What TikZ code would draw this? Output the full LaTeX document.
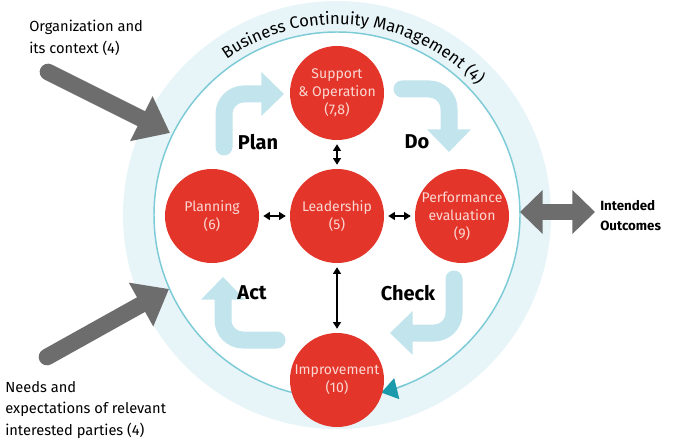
\documentclass[tikz,border=0pt]{standalone}
\usepackage{fontspec}
\setmainfont{Fira Sans}
\usetikzlibrary{arrows.meta, positioning, decorations.text, calc}

\definecolor{bcmred}{HTML}{E4352B}
\definecolor{bcmpink}{HTML}{FAD8D2}
\definecolor{bandblue}{HTML}{E8F5F8}
\definecolor{ringblue}{HTML}{7CCBD7}
\definecolor{tipteal}{HTML}{1A9AAA}
\definecolor{pdcablue}{HTML}{C2E4EC}
\definecolor{feedgrey}{HTML}{6D6D6D}

\begin{document}
\begin{tikzpicture} [x=0.75pt, y=-0.75pt, on grid,
every node/.style = {font=\fontsize{11}{16}\selectfont},
clause/.style = {circle, fill=bcmred, text=bcmpink, minimum size=70.5pt, inner sep=0pt, align=center, font=\fontsize{10.5}{13.5}\selectfont},
phase/.style = {font=\fontsize{15}{18}\selectfont\bfseries},
pdca/.style = {pdcablue, line width=12.75pt, rounded corners=15pt, line cap=round, -{Triangle[length=17pt, width=32pt]}},
feed/.style = {feedgrey, line width=12.5pt, line cap=round, -{Triangle[length=24pt, width=36pt]}},
link/.style = {{Triangle[length=5pt, width=6pt]}-{Triangle[length=5pt, width=6pt]}, line width=0.9pt, shorten <=3pt, shorten >=3pt}]

\useasboundingbox (0,0) rectangle (677,445);
\coordinate (ring) at (337,215);

% management ring
\fill [bandblue] (ring) circle [radius=160.5pt];
\draw [ringblue, line width=1.1pt, fill=white] (ring) circle [radius=137.25pt];
\draw [ringblue, line width=1.1pt, -{Triangle[length=12pt, width=16pt, color=tipteal]}] ($(ring)+(-68:137.25pt)$) arc [start angle=-68, end angle=-76, radius=137.25pt];
\path [decorate, decoration={text along path, text align=center, text={|\fontsize{12.5}{15}\selectfont|Business Continuity Management (4)}}]
  ($(ring)+(132:143pt)$) arc [start angle=132, end angle=36, radius=143pt];

% inputs and outcomes
\draw [feed] (48,72) -- (170,133);
\draw [feed] (47,357) -- (169,289);
\draw [feedgrey, line width=12.5pt, {Triangle[length=17pt, width=32pt]}-{Triangle[length=17pt, width=32pt]}] (520,212) -- (595,212);

% PDCA cycle
\draw [pdca] (224,147) -- (224,94) -- (284,94);
\draw [pdca] (402,89) -- (449,89) -- (449,152);
\draw [pdca] (454,279) -- (454,333) -- (390,333);
\draw [pdca] (277,340) -- (223,340) -- (223,277);

\node (lead) [clause] at (337,216) {Leadership\\(5)};
\node (plan) [clause, left = 93.75pt of lead] {Planning\\(6)};
\node (perf) [clause, right = 93.75pt of lead] {Performance\\evaluation\\(9)};
\node (supp) [clause, above = 92.25pt of lead] {Support\\\& Operation\\(7,8)};
\node (impr) [clause, below = 123pt of lead] {Improvement\\(10)};

\path [link]
  (supp) edge (lead)
  (plan) edge (lead)
  (lead) edge (perf)
  (lead) edge (impr);

\node (planlbl) [phase] at (258,142) {Plan};
\node (dolbl) [phase] at (417,142) {Do};
\node (actlbl) [phase] at (252,293) {Act};
\node (checklbl) [phase] at (408,293) {Check};

\node (ctx) [anchor=west, align=left, inner sep=0pt] at (29,38) {Organization and\\its context (4)};
\node (needs) [anchor=west, align=left, inner sep=0pt] at (5,410) {Needs and\\expectations of relevant\\interested parties (4)};
\node (outc) [anchor=west, align=left, inner sep=0pt, font=\fontsize{10}{15}\selectfont\bfseries] at (600,216) {Intended\\Outcomes};
\end{tikzpicture}
\end{document}
